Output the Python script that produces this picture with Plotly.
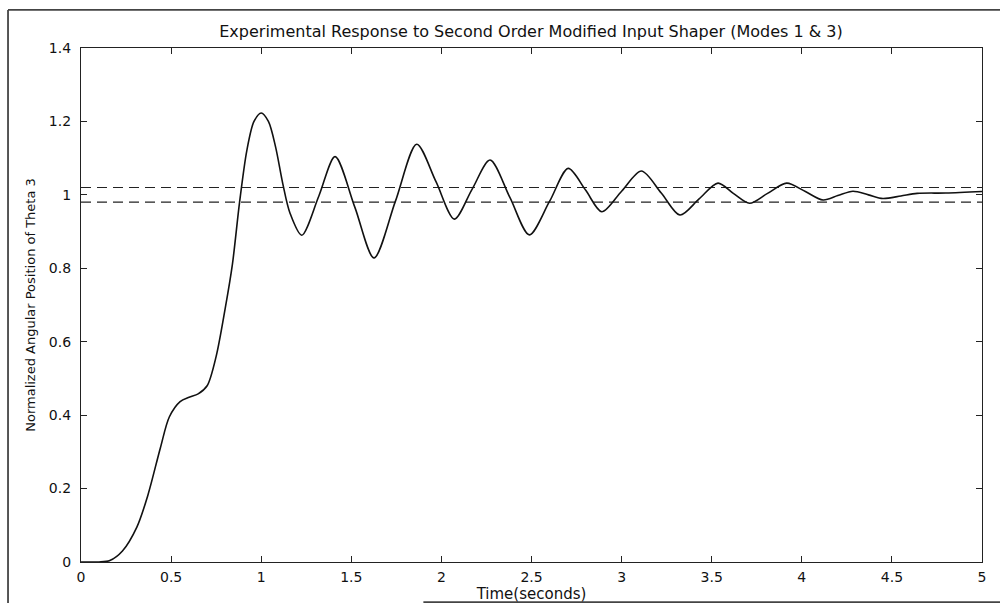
import plotly.graph_objects as go

# Measured response of theta 3 (normalized) versus time in seconds
time_s = [0.00, 0.10, 0.16, 0.23, 0.31, 0.37, 0.44, 0.49, 0.55, 0.60, 0.65,
          0.70, 0.75, 0.80, 0.84, 0.88, 0.92, 0.96, 1.00, 1.04, 1.08, 1.12,
          1.16, 1.225, 1.32, 1.41, 1.52, 1.626, 1.745, 1.863, 1.97, 2.072,
          2.17, 2.27, 2.38, 2.488, 2.60, 2.704, 2.80, 2.89, 3.00, 3.11, 3.22,
          3.324, 3.43, 3.535, 3.62, 3.71, 3.81, 3.916, 4.02, 4.118, 4.20,
          4.284, 4.37, 4.45, 4.55, 4.64, 4.80, 5.00]
theta3 = [0.000, 0.000, 0.004, 0.030, 0.095, 0.180, 0.310, 0.395, 0.437, 0.449,
          0.458, 0.480, 0.560, 0.690, 0.810, 0.980, 1.120, 1.200, 1.223, 1.200,
          1.130, 1.030, 0.950, 0.890, 0.997, 1.104, 0.966, 0.828, 0.983, 1.138,
          1.036, 0.934, 1.015, 1.095, 0.993, 0.891, 0.982, 1.072, 1.013, 0.954,
          1.010, 1.065, 1.005, 0.945, 0.989, 1.032, 1.004, 0.977, 1.004, 1.032,
          1.009, 0.986, 0.998, 1.010, 1.000, 0.990, 0.997, 1.004, 1.005, 1.009]

# +/- 2 % settling band
band_upper = 1.02
band_lower = 0.98
t_range = [0, 5]

x_ticks = [0, 0.5, 1, 1.5, 2, 2.5, 3, 3.5, 4, 4.5, 5]
x_tick_text = ["0", "0.5", "1", "1.5", "2", "2.5", "3", "3.5", "4", "4.5", "5"]
y_ticks = [0, 0.2, 0.4, 0.6, 0.8, 1.0, 1.2, 1.4]
y_tick_text = ["0", "0.2", "0.4", "0.6", "0.8", "1", "1.2", "1.4"]

FONT = "DejaVu Sans, Arial, sans-serif"
INK = "#111111"

fig = go.Figure()

for level in (band_upper, band_lower):
    fig.add_trace(go.Scatter(
        x=t_range, y=[level, level], mode="lines",
        line=dict(color="#222222", width=1.2, dash="10px,6px"),
        hoverinfo="skip", showlegend=False,
    ))

fig.add_trace(go.Scatter(
    x=time_s, y=theta3, mode="lines",
    line=dict(color=INK, width=1.6, shape="spline", smoothing=0.85),
    showlegend=False,
))

axis_common = dict(
    showgrid=False, zeroline=False, showline=True, linecolor="#222222",
    linewidth=1.2, mirror="ticks", ticks="inside", ticklen=6,
    tickcolor="#222222", tickwidth=1, automargin=False,
    tickfont=dict(family=FONT, size=14, color=INK),
)

fig.update_xaxes(
    range=[0, 5], tickvals=x_ticks, ticktext=x_tick_text, ticklabelstandoff=2,
    title=dict(text="Time(seconds)", font=dict(family=FONT, size=15, color=INK),
               standoff=0),
    **axis_common,
)
fig.update_yaxes(
    range=[0, 1.4], tickvals=y_ticks, ticktext=y_tick_text, ticklabelstandoff=6,
    title=dict(text="Normalized Angular Position of Theta 3",
               font=dict(family=FONT, size=13, color=INK), standoff=10),
    **axis_common,
)

# page frame around the figure (left and top edges, plus bottom rule)
frame_line = dict(color="#444444", width=1.8)
fig.add_shape(type="line", xref="paper", yref="paper",
              x0=-0.081, x1=-0.081, y0=-0.08, y1=1.074, line=frame_line)
fig.add_shape(type="line", xref="paper", yref="paper",
              x0=-0.081, x1=1.03, y0=1.074, y1=1.074, line=frame_line)
fig.add_shape(type="line", xref="paper", yref="paper",
              x0=0.38, x1=1.03, y0=-0.078, y1=-0.078, line=frame_line)

fig.update_layout(
    width=1000, height=606,
    margin=dict(l=81, r=18, t=48, b=44),
    paper_bgcolor="white", plot_bgcolor="white",
    title=dict(
        text="Experimental Response to Second Order Modified Input Shaper (Modes 1 & 3)",
        x=0.531, xanchor="center", y=0.948, yanchor="middle",
        font=dict(family=FONT, size=16, color=INK),
    ),
)

fig.write_html("out.html")
